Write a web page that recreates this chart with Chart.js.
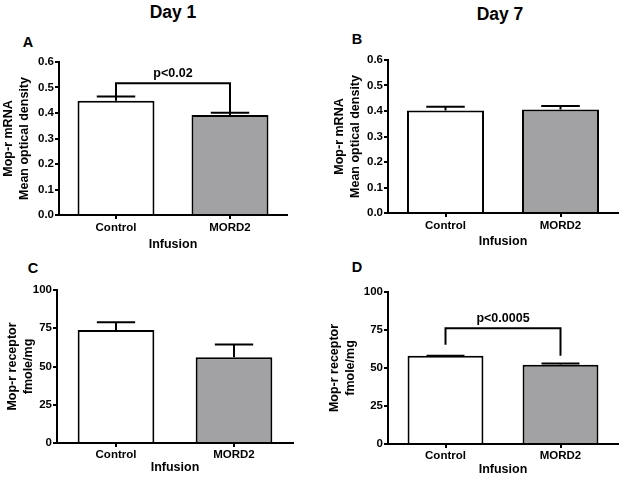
<!DOCTYPE html>
<html>
<head>
<meta charset="utf-8">
<script src="https://cdn.jsdelivr.net/npm/chart.js@4/dist/chart.umd.min.js"></script>
<style>
  html, body { margin: 0; padding: 0; background: #fff; }
  #wrap { position: relative; width: 624px; height: 483px; font-family: "Liberation Sans", Arial, sans-serif; font-weight: bold; color: #000; }
  #wrap canvas { position: absolute; }
  .lbl { position: absolute; transform: translate(-50%, -50%); white-space: nowrap; line-height: 1; }
  .day { font-size: 17.5px; }
  .panel { font-size: 14.5px; }
</style>
</head>
<body>
<div id="wrap">
  <div class="lbl day" style="left:173px; top:13px;">Day 1</div>
  <div class="lbl day" style="left:500px; top:15px;">Day 7</div>
  <div class="lbl panel" style="left:28px; top:42px;">A</div>
  <div class="lbl panel" style="left:357px; top:39px;">B</div>
  <div class="lbl panel" style="left:33px; top:268px;">C</div>
  <div class="lbl panel" style="left:357px; top:267px;">D</div>
  <canvas id="chartA" width="312" height="212" style="left:0px; top:40px;"></canvas>
  <canvas id="chartB" width="312" height="209" style="left:312px; top:40px;"></canvas>
  <canvas id="chartC" width="312" height="205" style="left:0px; top:270px;"></canvas>
  <canvas id="chartD" width="312" height="207" style="left:312px; top:270px;"></canvas>
</div>
<script>
// === DATI ===
const categorie = ['Control', 'MORD2'];
const coloriBarre = ['#ffffff', '#a2a2a5'];

// Mop-r mRNA (mean optical density), media e SEM
const mrnaGiorno1 = [0.448, 0.392];
const mrnaGiorno1Sem = [0.017, 0.009];
const mrnaGiorno7 = [0.402, 0.406];
const mrnaGiorno7Sem = [0.015, 0.014];

// Mop-r receptor (fmole/mg), media e SEM
const recettoreGiorno1 = [73.9, 56.1];
const recettoreGiorno1Sem = [5.0, 8.2];
const recettoreGiorno7 = [58.0, 52.1];
const recettoreGiorno7Sem = [0.1, 0.8];

// tick dell'asse y
const tickMrna = [0, 0.1, 0.2, 0.3, 0.4, 0.5, 0.6];
const tickRecettore = [0, 25, 50, 75, 100];

// significativita': altezza della parentesi e fine delle gambe
const parentesiA = { testo: 'p<0.02', livello: 0.517, gambe: [0.467, 0.402] };
const parentesiD = { testo: 'p<0.0005', livello: 76.2, gambe: [65.3, 58.0] };

const FONT = '"Liberation Sans", Arial, sans-serif';

// === PLUGIN: barre d'errore e parentesi ===
const erroriEParentesi = {
  id: 'erroriEParentesi',
  afterDatasetsDraw(chart, args, opts) {
    const ctx = chart.ctx;
    const y = chart.scales.y;
    const meta = chart.getDatasetMeta(0);
    const valori = chart.data.datasets[0].data;
    ctx.save();
    ctx.strokeStyle = '#000';
    ctx.lineWidth = 2;
    ctx.lineCap = 'butt';
    meta.data.forEach((barra, i) => {
      const sem = opts.sem[i];
      if (!sem) return;
      const top = y.getPixelForValue(valori[i]);
      const alto = y.getPixelForValue(valori[i] + sem);
      const mezzo = barra.width / 4;
      ctx.beginPath();
      ctx.moveTo(barra.x, top);
      ctx.lineTo(barra.x, alto);
      ctx.moveTo(barra.x - mezzo, alto);
      ctx.lineTo(barra.x + mezzo, alto);
      ctx.stroke();
    });
    const p = opts.parentesi;
    if (p) {
      const x0 = meta.data[0].x, x1 = meta.data[1].x;
      const yl = y.getPixelForValue(p.livello);
      ctx.beginPath();
      ctx.moveTo(x0, y.getPixelForValue(p.gambe[0]));
      ctx.lineTo(x0, yl);
      ctx.lineTo(x1, yl);
      ctx.lineTo(x1, y.getPixelForValue(p.gambe[1]));
      ctx.stroke();
      ctx.fillStyle = '#000';
      ctx.font = 'bold 12.5px ' + FONT;
      ctx.textAlign = 'center';
      ctx.textBaseline = 'middle';
      ctx.fillText(p.testo, (x0 + x1) / 2, yl - 10);
    }
    ctx.restore();
  }
};

function creaPannello(id, c) {
  const assiTick = {
    color: '#000',
    font: { family: FONT, size: 11.5, weight: 'bold' }
  };
  return new Chart(document.getElementById(id), {
    type: 'bar',
    data: {
      labels: categorie,
      datasets: [{
        data: c.valori,
        backgroundColor: coloriBarre,
        borderColor: '#000',
        borderWidth: 2,
        borderSkipped: 'bottom',
        barPercentage: c.barra,
        categoryPercentage: 1
      }]
    },
    options: {
      responsive: false,
      animation: false,
      devicePixelRatio: 1,
      layout: { padding: { left: c.padSx, right: c.padDx, top: c.padSu, bottom: 0 } },
      plugins: {
        legend: { display: false },
        tooltip: { enabled: false },
        erroriEParentesi: { sem: c.sem, parentesi: c.parentesi }
      },
      scales: {
        x: {
          offset: true,
          grid: { offset: false, drawOnChartArea: false, color: '#000', lineWidth: 2, tickLength: 4 },
          border: { display: true, color: '#000', width: 2 },
          ticks: Object.assign({ padding: c.padTickX }, assiTick),
          title: {
            display: true,
            text: 'Infusion',
            color: '#000',
            font: { family: FONT, size: 12.5, weight: 'bold', lineHeight: 1.2 },
            padding: { top: 0, bottom: 0 }
          },
          afterFit: (s) => { s.height = c.altezzaX; }
        },
        y: {
          min: c.tick[0],
          max: c.tick[c.tick.length - 1],
          afterBuildTicks: (s) => { s.ticks = c.tick.map(v => ({ value: v })); },
          grid: { drawOnChartArea: false, color: '#000', lineWidth: 2, tickLength: 4 },
          border: { display: true, color: '#000', width: 2 },
          ticks: Object.assign({ padding: 1, callback: c.formato }, assiTick),
          title: {
            display: true,
            text: c.titoloY,
            color: '#000',
            font: { family: FONT, size: 12.5, weight: 'bold', lineHeight: 1.28 },
            padding: { top: 0, bottom: 0 }
          },
          afterFit: (s) => { s.width = c.larghezzaY; }
        }
      }
    },
    plugins: [erroriEParentesi]
  });
}

const formatoMrna = (v) => Number(v).toFixed(1);
const formatoRecettore = (v) => String(v);

creaPannello('chartA', {
  valori: mrnaGiorno1, sem: mrnaGiorno1Sem, parentesi: parentesiA,
  tick: tickMrna, formato: formatoMrna, titoloY: ['Mop-r mRNA', 'Mean optical density'],
  padSx: 1, larghezzaY: 58, padDx: 25, padSu: 22, altezzaX: 37, padTickX: 2, barra: 0.675
});
creaPannello('chartB', {
  valori: mrnaGiorno7, sem: mrnaGiorno7Sem, parentesi: null,
  tick: tickMrna, formato: formatoMrna, titoloY: ['Mop-r mRNA', 'Mean optical density'],
  padSx: 20, larghezzaY: 56, padDx: 6, padSu: 20, altezzaX: 36, padTickX: 2, barra: 0.67
});
creaPannello('chartC', {
  valori: recettoreGiorno1, sem: recettoreGiorno1Sem, parentesi: null,
  tick: tickRecettore, formato: formatoRecettore, titoloY: ['Mop-r receptor', 'fmole/mg'],
  padSx: 5, larghezzaY: 52, padDx: 19, padSu: 20, altezzaX: 32, padTickX: 1, barra: 0.65
});
creaPannello('chartD', {
  valori: recettoreGiorno7, sem: recettoreGiorno7Sem, parentesi: parentesiD,
  tick: tickRecettore, formato: formatoRecettore, titoloY: ['Mop-r receptor', 'fmole/mg'],
  padSx: 15, larghezzaY: 61, padDx: 6, padSu: 22, altezzaX: 33, padTickX: 1, barra: 0.66
});
</script>
</body>
</html>
